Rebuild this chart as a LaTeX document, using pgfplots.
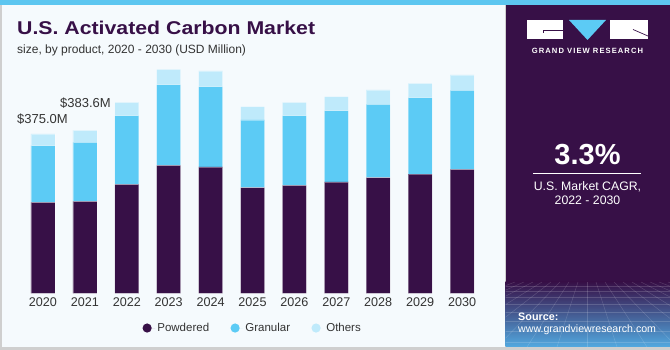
\documentclass[border=0pt]{standalone}
\usepackage{pgfplots}
\pgfplotsset{compat=1.18}
\usepackage{pgfplotstable}
\usepackage{fontspec}
\setmainfont{Liberation Sans}
\definecolor{gvpurple}{HTML}{371047}
\definecolor{gvgran}{HTML}{5CCBF5}
\definecolor{gvoth}{HTML}{BFEAFB}
\definecolor{gvbg}{HTML}{F5FAFD}
\definecolor{gvstrip}{HTML}{5DC6F0}
\definecolor{gvtext}{HTML}{333333}
\definecolor{gvborder}{HTML}{CFCFCF}
\definecolor{gvlblue}{HTML}{52A9E0}
\definecolor{gvmid}{HTML}{3F4C8C}

\pgfplotstableread{
x pow gran oth
0 214.2 133.2 27.6
1 216.6 138.9 28.1
2 256.6 161.5 31.5
3 301.3 189.7 36.3
4 297.3 189.0 37.0
5 248.6 159.4 31.3
6 254.2 163.8 31.5
7 262.0 167.8 33.0
8 272.1 172.8 33.7
9 280.8 179.6 33.9
10 291.9 186.0 36.0
}\gvdata

\begin{document}
\begin{tikzpicture}[x=1pt,y=1pt]
% background
\fill[gvborder] (0,0) rectangle (670,350);
\fill[gvbg] (1.5,3) rectangle (505,345);
\fill[gvpurple] (505.5,3) rectangle (670,345);
\shade[top color=gvpurple, middle color=gvmid, bottom color=gvlblue] (505.5,3) rectangle (670,68);
\begin{scope}
\clip (505.5,3) rectangle (670,68);
\foreach \i in {-12,...,12} {
  \draw[white, opacity=0.16, line width=0.5pt] (587+\i*9,68) -- (587+\i*30,3);
}
\foreach \yy in {64,59,53,46,38,29,19,8} {
  \draw[white, opacity=0.16, line width=0.5pt] (505,\yy) -- (670,\yy);
}
\end{scope}
\fill[gvstrip] (0,345) rectangle (670,350);

% titles
\node[anchor=base west, inner sep=0, text=gvpurple] at (17,315)
  {\scalebox{1.15}[1]{\fontsize{18.5}{20}\selectfont\bfseries U.S. Activated Carbon Market}};
\node[anchor=base west, inner sep=0, text=gvtext] at (17,296.7)
  {\fontsize{12}{14}\selectfont size, by product, 2020 - 2030 (USD Million)};

% value labels
\node[anchor=base west, inner sep=0, text=gvtext] at (17,226.5)
  {\fontsize{13}{15}\selectfont \$375.0M};
\node[anchor=base west, inner sep=0, text=gvtext] at (60,242.7)
  {\fontsize{13}{15}\selectfont \$383.6M};

% logo
\fill[white] (527,330) rectangle (563,311);
\draw[gvpurple, line width=0.7pt] (543.5,317) -- (543.5,319.5) -- (563,319.5);
\fill[gvgran] (569,330) -- (606,330) -- (587.5,310) -- cycle;
\fill[white] (610,330) rectangle (648,311);
\draw[gvpurple, line width=0.7pt] (633,320.5) -- (648,314);
\node[text=white, inner sep=0] at (587.5,299)
  {\fontsize{7.6}{8}\selectfont\bfseries\addfontfeatures{LetterSpace=14}GRAND VIEW RESEARCH};

% CAGR
\node[anchor=base, inner sep=0, text=white] at (587.5,185)
  {\fontsize{29}{30}\selectfont\bfseries 3.3\%};
\draw[white, line width=0.8pt] (533,176.7) -- (641,176.7);
\node[text=white, inner sep=0] at (587.5,163.3)
  {\fontsize{12.3}{14}\selectfont U.S. Market CAGR,};
\node[text=white, inner sep=0] at (587.5,149.5)
  {\fontsize{12.3}{14}\selectfont 2022 - 2030};

% source
\node[anchor=west, inner sep=0, text=white] at (518,33.3)
  {\fontsize{10.8}{12}\selectfont\bfseries Source:};
\node[anchor=west, inner sep=0, text=white] at (518,20)
  {\fontsize{10.6}{12}\selectfont www.grandviewresearch.com};

\begin{axis}[
  at={(22pt,56.7pt)}, anchor=south west,
  scale only axis, width=461pt, height=237.9pt,
  xmin=-0.5, xmax=10.5, ymin=0, ymax=560,
  ybar stacked, bar width=24pt,
  axis line style={draw=none}, tick style={draw=none},
  ytick=\empty, xtick={0,...,10},
  xticklabels={2020,2021,2022,2023,2024,2025,2026,2027,2028,2029,2030},
  xticklabel style={font=\fontsize{12.6}{14}\selectfont, text=gvtext, yshift=-1pt},
  clip=false,
  legend style={at={(0.5,-0.146)}, anchor=center, draw=none, fill=none,
    legend columns=3, font=\fontsize{11.5}{13}\selectfont, text=gvtext,
    /tikz/every even column/.append style={column sep=19pt}},
  legend image code/.code={\path (0pt,0pt) -- (12.5pt,0pt);\fill[#1,draw=none] (4.6pt,0pt) circle (4.6pt);},
]
\addplot[fill=gvpurple, draw=white, draw opacity=0.35, line width=0.7pt] table[x=x,y=pow]{\gvdata};
\addplot[fill=gvgran, draw=white, draw opacity=0.35, line width=0.7pt] table[x=x,y=gran]{\gvdata};
\addplot[fill=gvoth, draw=white, draw opacity=0.35, line width=0.7pt] table[x=x,y=oth]{\gvdata};
\legend{Powdered,Granular,Others}
\end{axis}
\pgfresetboundingbox
\path (0,0) rectangle (670,350);
\end{tikzpicture}
\end{document}
